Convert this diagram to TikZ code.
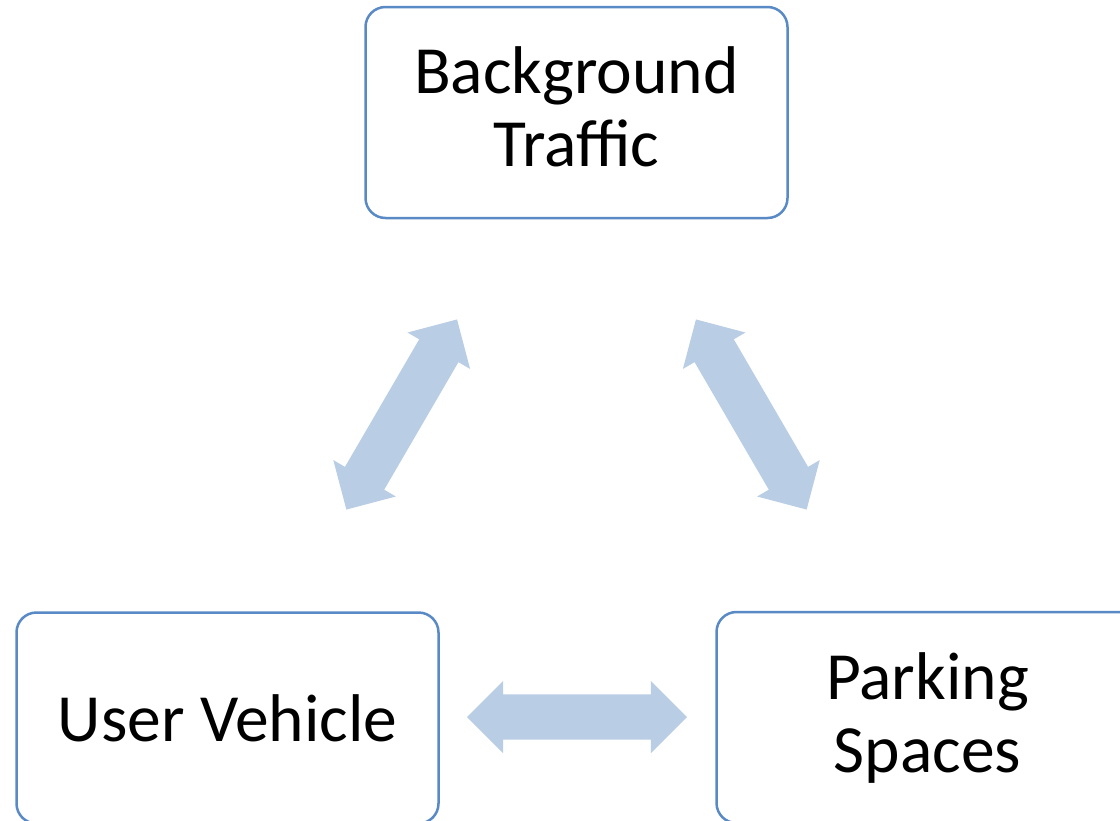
\documentclass[tikz,border=0pt]{standalone}
\usepackage{fontspec}
\setmainfont{Carlito}
\usetikzlibrary{shapes.arrows}
\definecolor{boxline}{HTML}{5A8AC6}
\definecolor{arrowfill}{HTML}{B9CDE5}
\begin{document}
\begin{tikzpicture}[x=1pt,y=-1pt,
  box/.style={draw=boxline, line width=2.5pt, rounded corners=20pt,
    minimum width=422pt, minimum height=211pt, align=center,
    font=\fontsize{67.5}{73}\selectfont, inner sep=0pt, fill=white},
  link/.style={double arrow, fill=arrowfill, draw=none,
    minimum height=220pt, inner xsep=0pt, inner ysep=22.5pt,
    double arrow head extend=13.5pt}]
\useasboundingbox (0,0) rectangle (1120,820);
\clip (0,0) rectangle (1120,820);
\node[box] (bt) at (576.5,112.5) {Background\\Traffic\rule[-11pt]{0pt}{0pt}};
\node[box] (uv) at (227.5,718) {User Vehicle};
\node[box] (ps) at (927.5,717.5) {Parking\\Spaces};
\node[link, rotate=59.8] (a1) at (401.7,414.5) {};
\node[link, rotate=-59.8] (a2) at (751.3,414.5) {};
\node[link] (a3) at (577,717) {};
\end{tikzpicture}
\end{document}
